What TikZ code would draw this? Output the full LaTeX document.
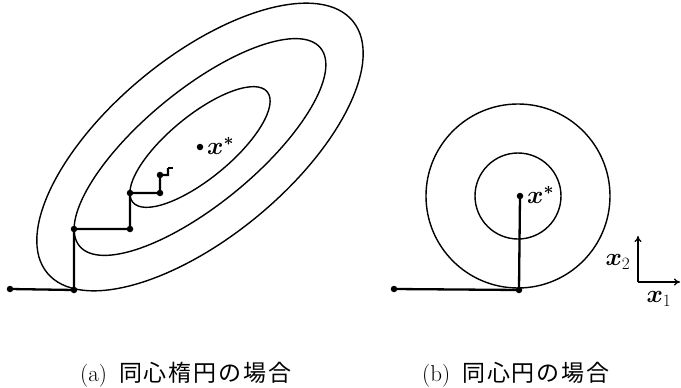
\documentclass[tikz,border=0pt]{standalone}
\usepackage{amsmath}
\usepackage{fontspec}
\newfontfamily\cjk[LetterSpace=8]{Noto Sans CJK JP}
\usetikzlibrary{arrows.meta}
\tikzset{
  contour/.style={line width=1.4pt},
  walk/.style={line width=2.3pt},
  dot/.style={circle,fill=black,inner sep=0pt,minimum size=6.5pt},
  lbl/.style={inner sep=0pt,font=\fontsize{24}{28}\selectfont},
  captext/.style={inner sep=0pt,anchor=west,font=\fontsize{23}{26}\selectfont},
  axis/.style={line width=1.3pt,-{To[length=6pt,width=7pt]}}
}
\begin{document}
\begin{tikzpicture}[x=1pt,y=-1pt]
\useasboundingbox (0,0) rectangle (681,388);
% --- (a) concentric ellipses ---
\coordinate (ca0) at (200,147);
\draw[contour,rotate around={39.5:(ca0)}] (ca0) ellipse [x radius=198, y radius=90];
\draw[contour,rotate around={39.4:(ca0)}] (ca0) ellipse [x radius=156, y radius=57];
\draw[contour,rotate around={39.4:(ca0)}] (ca0) ellipse [x radius=87, y radius=31.5];
\node[dot] (a0) at (10,289) {};
\node[dot] (a1) at (74,290) {};
\node[dot] (a2) at (74,229) {};
\node[dot] (a3) at (130,229) {};
\node[dot] (a4) at (130,193) {};
\node[dot] (a5) at (160,193) {};
\node[dot] (a6) at (160,175) {};
\coordinate (a7) at (168,175);
\coordinate (a8) at (168,168);
\coordinate (a9) at (173,168);
\draw[walk] (a0.center) -- (a1.center) -- (a2.center) -- (a3.center) -- (a4.center)
  -- (a5.center) -- (a6.center) -- (a7) -- (a8);
\draw[line width=1.4pt] (a8) -- (a9);
\node[dot] (xa) at (200,147) {};
\node[lbl,anchor=west] (xal) at (207,146) {$\boldsymbol{x}^{\boldsymbol{*}}$};
% --- (b) concentric circles ---
\coordinate (cb) at (518,196);
\draw[contour] (cb) circle[radius=92];
\draw[contour] (cb) circle[radius=43];
\node[dot] (b0) at (394,289) {};
\node[dot] (b1) at (519,290) {};
\node[dot] (b2) at (520,196) {};
\draw[walk] (b0.center) -- (b1.center) -- (b2.center);
\node[lbl,anchor=west] (xbl) at (527,195) {$\boldsymbol{x}^{\boldsymbol{*}}$};
% axes
\coordinate (o) at (638,282);
\coordinate (ax2) at (638,236);
\coordinate (ax1) at (680,282);
\draw[axis] (o) -- (ax2);
\draw[axis] (o) -- (ax1);
\node[lbl] (l2) at (618,262) {$\boldsymbol{x}_2$};
\node[lbl] (l1) at (659,299) {$\boldsymbol{x}_1$};
% captions
\node[captext] (ca) at (80,375) {(a)\hspace{12pt}{\cjk 同心楕円の場合}};
\node[captext] (cbt) at (422,375) {(b)\hspace{12pt}{\cjk 同心円の場合}};
\end{tikzpicture}
\end{document}
